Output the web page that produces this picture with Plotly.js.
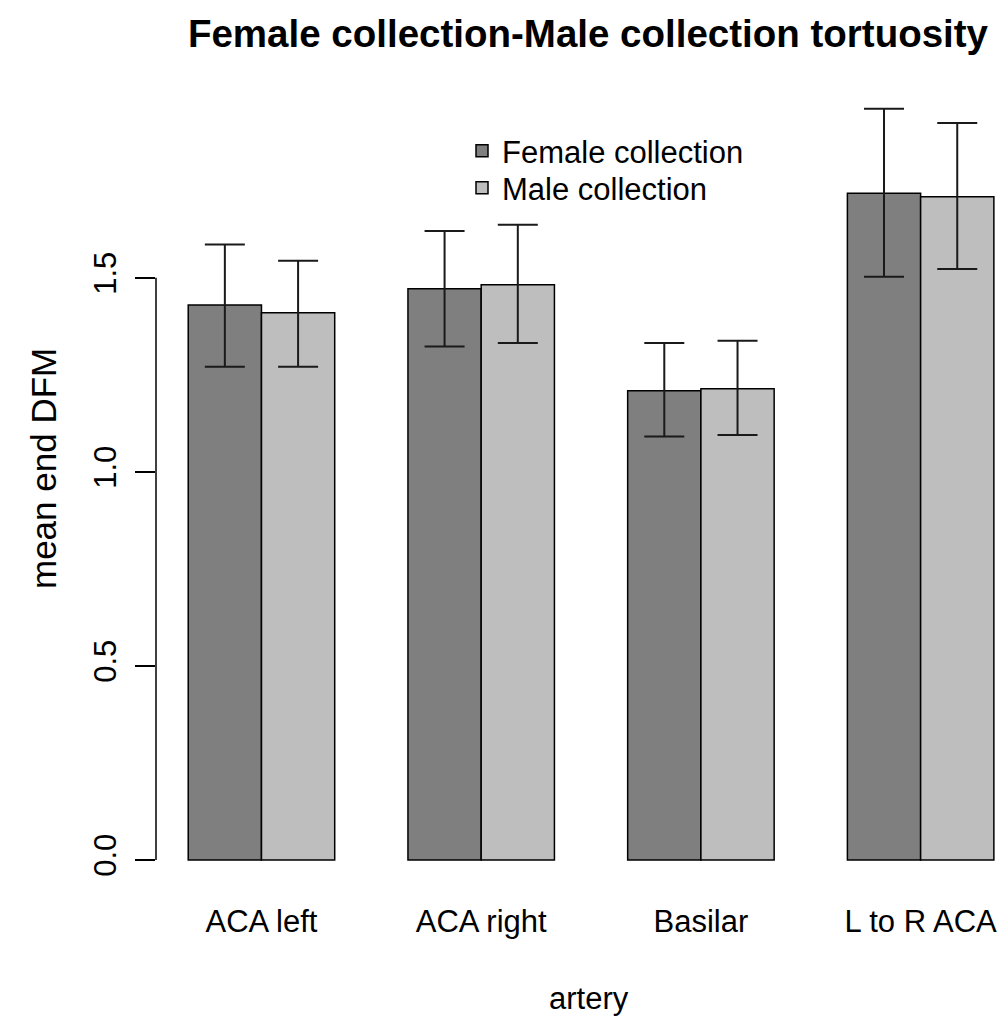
<!DOCTYPE html>
<html>
<head>
<meta charset="utf-8">
<script src="https://cdn.plot.ly/plotly-3.0.1.min.js"></script>
<style>html,body{margin:0;padding:0;background:#fff;}#chart{width:1005px;height:1019px;}</style>
</head>
<body>
<div id="chart"></div>
<script>
// ---- data ----
const arteries = ["ACA left", "ACA right", "Basilar", "L to R ACA"];
const femaleMean  = [1.430, 1.472, 1.209, 1.718];
const femaleUpper = [1.586, 1.621, 1.332, 1.936];
const femaleLower = [1.271, 1.323, 1.091, 1.503];
const maleMean    = [1.410, 1.482, 1.214, 1.709];
const maleUpper   = [1.544, 1.637, 1.338, 1.899];
const maleLower   = [1.271, 1.332, 1.095, 1.523];
const yTickVals   = [0, 0.5, 1.0, 1.5];
const yTickText   = ["0.0", "0.5", "1.0", "1.5"];
const seriesNames = ["Female collection", "Male collection"];

const FONT = "Liberation Sans, Arial, sans-serif";
const FS = 31;
const H = 1019, W = 1005, ML = 156, MT = 77, MB = 129;
const PH = H - MT - MB, PW = W - ML;
const plus  = (u, m) => u.map((v, i) => v - m[i]);
const minus = (l, m) => l.map((v, i) => m[i] - v);

function barTrace(name, mean, upper, lower, color, legendId) {
  return {
    type: "bar", name: name, x: arteries, y: mean, legend: legendId,
    marker: {color: color, line: {color: "#000", width: 1.5}},
    error_y: {type: "data", symmetric: false,
      array: plus(upper, mean), arrayminus: minus(lower, mean),
      color: "#1a1a1a", thickness: 2, width: 20},
    hoverinfo: "x+y"
  };
}

const data = [
  barTrace(seriesNames[0], femaleMean, femaleUpper, femaleLower, "#7f7f7f", "legend"),
  barTrace(seriesNames[1], maleMean, maleUpper, maleLower, "#bebebe", "legend2")
];

function legendAt(yCenterPx) {
  return {x: 462 / W, xref: "container", y: 1 - yCenterPx / H, yref: "container",
    xanchor: "left", yanchor: "middle",
    bgcolor: "rgba(0,0,0,0)", borderwidth: 0,
    font: {family: FONT, size: FS, color: "#000"}};
}

const layout = {
  width: W, height: H,
  margin: {l: ML, r: 0, t: MT, b: MB, pad: 0, autoexpand: false},
  paper_bgcolor: "#fff", plot_bgcolor: "#fff",
  font: {family: FONT, size: FS, color: "#000"},
  barmode: "group", bargap: 1/3, bargroupgap: 0,
  title: {text: "Female collection-Male collection tortuosity",
    font: {family: FONT, size: 38.5, weight: "bold", color: "#000"},
    xref: "container", x: 588 / W, xanchor: "center",
    yref: "container", y: 1 - 34 / H, yanchor: "middle"},
  xaxis: {type: "category", range: [-0.48, 3.384], automargin: false,
    showline: false, showgrid: false, zeroline: false, ticks: "", tickangle: 0,
    tickfont: {family: FONT, size: FS, color: "#000"},
    ticklabelstandoff: 10, fixedrange: true},
  yaxis: {range: [-0.0776, 2.0176], tickvals: yTickVals, ticktext: yTickText, automargin: false,
    showline: false, showgrid: false, zeroline: false,
    ticks: "outside", ticklen: 20, tickwidth: 1.5, tickcolor: "#000",
    tickangle: -90, tickfont: {family: FONT, size: FS, color: "#000"},
    ticklabelstandoff: 7, fixedrange: true},
  legend: legendAt(151),
  legend2: legendAt(188),
  annotations: [
    {text: "artery", xref: "paper", x: (589 - ML) / PW, xanchor: "center",
     yref: "paper", y: (MT + PH - 998) / PH, yanchor: "middle", showarrow: false,
     font: {family: FONT, size: FS, color: "#000"}},
    {text: "mean end DFM", textangle: -90, xref: "paper", x: (43 - ML) / PW, xanchor: "center",
     yref: "paper", y: (MT + PH - 469) / PH, yanchor: "middle", showarrow: false,
     font: {family: FONT, size: 35, color: "#000"}}
  ],
  shapes: [{type: "line", xref: "paper", x0: 0, x1: 0, yref: "y",
    y0: yTickVals[0], y1: yTickVals[yTickVals.length - 1],
    line: {color: "#000", width: 1.5}}],
  showlegend: true
};

Plotly.newPlot("chart", data, layout, {staticPlot: true, displayModeBar: false});
</script>
</body>
</html>
